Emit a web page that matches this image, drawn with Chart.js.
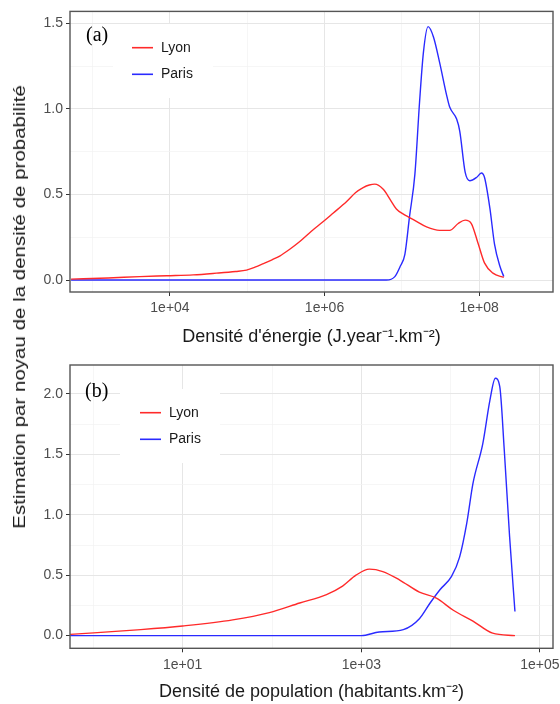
<!DOCTYPE html>
<html lang="fr">
<head>
<meta charset="utf-8">
<title>Densités</title>
<script src="https://cdn.jsdelivr.net/npm/chart.js@4.4.0/dist/chart.umd.min.js"></script>
<style>
  body { margin: 0; background: #fff; }
  #wrap { position: relative; width: 560px; height: 704px; overflow: hidden; }
  canvas { position: absolute; left: 0; }
  #chartA { top: 0; }
  #chartB { top: 352px; }
  #ytitle {
    position: absolute; left: 20px; top: 307px;
    font: 17px "Liberation Sans", Arial, sans-serif; color: #1a1a1a;
    white-space: nowrap; transform-origin: center center;
  }
</style>
</head>
<body>
<div id="wrap">
  <canvas id="chartA" width="560" height="352"></canvas>
  <canvas id="chartB" width="560" height="352"></canvas>
  <div id="ytitle">Estimation par noyau de la densité de probabilité</div>
</div>
<script>
// (a) energy density — x values are log10 of J.year-1.km-2
const lyonEnergyX = [2.72, 3.2, 3.61, 3.96, 4.3, 4.6, 4.85, 4.99, 5.1, 5.21, 5.32, 5.42, 5.55, 5.68, 5.83, 5.98, 6.11, 6.29, 6.4, 6.5, 6.58, 6.65, 6.76, 6.85, 6.93, 7.02, 7.1, 7.2, 7.32, 7.49, 7.62, 7.73, 7.82, 7.9, 7.99, 8.07, 8.18, 8.32];
const lyonEnergyY = [0.005, 0.012, 0.02, 0.025, 0.03, 0.04, 0.05, 0.058, 0.075, 0.096, 0.118, 0.14, 0.18, 0.225, 0.285, 0.34, 0.39, 0.46, 0.51, 0.54, 0.555, 0.56, 0.53, 0.47, 0.415, 0.385, 0.365, 0.34, 0.31, 0.29, 0.29, 0.33, 0.35, 0.33, 0.21, 0.10, 0.04, 0.015];
const parisEnergyX = [2.72, 6.6, 6.8, 6.91, 6.98, 7.04, 7.1, 7.17, 7.23, 7.28, 7.34, 7.41, 7.49, 7.58, 7.62, 7.71, 7.75, 7.82, 7.88, 7.97, 8.03, 8.07, 8.14, 8.2, 8.27, 8.32];
const parisEnergyY = [0, 0, 0, 0.02, 0.08, 0.15, 0.37, 0.62, 1.04, 1.33, 1.48, 1.42, 1.27, 1.08, 1.01, 0.94, 0.87, 0.63, 0.58, 0.6, 0.625, 0.6, 0.42, 0.21, 0.08, 0.02];
const energyXMajor = [4, 6, 8];
const energyXMinor = [3, 5, 7];
const energyXLabels = ['1e+04', '1e+06', '1e+08'];
const energyYMajor = [0, 0.5, 1.0, 1.5];
const energyYMinor = [0.25, 0.75, 1.25];

// (b) population density — x values are log10 of habitants.km-2
const lyonPopX = [-0.26, 0.53, 1.0, 1.56, 1.97, 2.31, 2.61, 2.79, 2.94, 3.09, 3.24, 3.43, 3.65, 3.84, 4.03, 4.25, 4.47, 4.72];
const lyonPopY = [0.01, 0.05, 0.08, 0.13, 0.19, 0.27, 0.34, 0.41, 0.5, 0.55, 0.53, 0.46, 0.36, 0.31, 0.21, 0.12, 0.02, 0.0];
const parisPopX = [-0.26, 2.085, 3.0, 3.2, 3.47, 3.65, 3.77, 3.88, 4.01, 4.1, 4.18, 4.25, 4.36, 4.44, 4.5, 4.55, 4.6, 4.66, 4.72];
const parisPopY = [0, 0, 0, 0.03, 0.05, 0.14, 0.27, 0.38, 0.49, 0.65, 0.93, 1.26, 1.59, 1.95, 2.13, 2.06, 1.54, 0.82, 0.2];
const popXMajor = [1, 3, 5];
const popXMinor = [0, 2, 4];
const popXLabels = ['1e+01', '1e+03', '1e+05'];
const popYMajor = [0, 0.5, 1.0, 1.5, 2.0];
const popYMinor = [0.25, 0.75, 1.25, 1.75];

const seriesNames = ['Lyon', 'Paris'];
const seriesColors = ['#ff2a2a', '#2a2aff'];

const FONT = '"Liberation Sans", Arial, sans-serif';

function toPoints(xs, ys) {
    return xs.map((x, i) => ({ x: x, y: ys[i] }));
}

function isIn(list, v) {
    return list.some(m => Math.abs(m - v) < 1e-6);
}

// border, inset legend and panel tag, drawn over the grid
const panelDecor = {
    id: 'panelDecor',
    afterDatasetsDraw(chart, args, opts) {
        const { ctx, chartArea: a } = chart;
        ctx.save();
        const b = opts.box;
        ctx.fillStyle = '#fff';
        ctx.fillRect(b[0], b[1], b[2], b[3]);
        chart.data.datasets.forEach((ds, i) => {
            const y = opts.legendY + i * 26.6;
            ctx.strokeStyle = ds.borderColor;
            ctx.lineWidth = 1.6;
            ctx.beginPath();
            ctx.moveTo(opts.legendX, y);
            ctx.lineTo(opts.legendX + 21, y);
            ctx.stroke();
            ctx.fillStyle = '#1a1a1a';
            ctx.font = '14px ' + FONT;
            ctx.textBaseline = 'middle';
            ctx.fillText(ds.label, opts.legendX + 29, y);
        });
        ctx.fillStyle = '#000';
        ctx.font = '20px "Liberation Serif", "Times New Roman", serif';
        ctx.textBaseline = 'middle';
        ctx.fillText(opts.tag, opts.tagX, opts.tagY);
        ctx.strokeStyle = '#555';
        ctx.lineWidth = 1.4;
        ctx.strokeRect(a.left, a.top, a.right - a.left, a.bottom - a.top);
        ctx.restore();
    }
};

function makePanel(id, p) {
    const ctx = document.getElementById(id).getContext('2d');
    const gridColor = (major) => (c) => isIn(major, c.tick.value) ? '#e6e6e6' : '#f2f2f2';
    const gridWidth = (major) => (c) => isIn(major, c.tick.value) ? 1 : 0.7;
    const tickColor = (major) => (c) => isIn(major, c.tick.value) ? '#333' : 'rgba(0,0,0,0)';
    return new Chart(ctx, {
        type: 'line',
        data: {
            datasets: seriesNames.map((name, i) => ({
                label: name,
                data: toPoints(p.xs[i], p.ys[i]),
                borderColor: seriesColors[i],
                borderWidth: 1.4,
                pointRadius: 0,
                fill: false,
                cubicInterpolationMode: 'monotone'
            }))
        },
        options: {
            responsive: false,
            animation: false,
            layout: { padding: { top: p.top, right: 7, left: 0, bottom: 0 } },
            scales: {
                x: {
                    type: 'linear',
                    min: p.xMin,
                    max: p.xMax,
                    afterBuildTicks: (s) => {
                        s.ticks = p.xMajor.concat(p.xMinor).sort((a, b) => a - b).map(v => ({ value: v }));
                    },
                    afterFit: (s) => {
                        s.height = p.xAxisH;
                        s.paddingLeft = 0;
                        s.paddingRight = 0;
                    },
                    border: { display: false },
                    grid: {
                        color: gridColor(p.xMajor),
                        lineWidth: gridWidth(p.xMajor),
                        tickColor: tickColor(p.xMajor),
                        tickLength: 4
                    },
                    ticks: {
                        autoSkip: false,
                        maxRotation: 0,
                        padding: 4,
                        color: '#4d4d4d',
                        font: { family: FONT, size: 14 },
                        callback: (v) => {
                            const k = p.xMajor.findIndex(m => Math.abs(m - v) < 1e-6);
                            return k >= 0 ? p.xLabels[k] : '';
                        }
                    },
                    title: {
                        display: true,
                        text: p.xTitle,
                        color: '#1a1a1a',
                        font: { family: FONT, size: 18 },
                        padding: { top: 0, bottom: p.titlePad }
                    }
                },
                y: {
                    type: 'linear',
                    min: p.yMin,
                    max: p.yMax,
                    afterBuildTicks: (s) => {
                        s.ticks = p.yMajor.concat(p.yMinor).sort((a, b) => a - b).map(v => ({ value: v }));
                    },
                    afterFit: (s) => { s.width = 70; },
                    border: { display: false },
                    grid: {
                        color: gridColor(p.yMajor),
                        lineWidth: gridWidth(p.yMajor),
                        tickColor: tickColor(p.yMajor),
                        tickLength: 4
                    },
                    ticks: {
                        autoSkip: false,
                        padding: 3,
                        color: '#4d4d4d',
                        font: { family: FONT, size: 14 },
                        callback: (v) => isIn(p.yMajor, v) ? v.toFixed(1) : ''
                    }
                }
            },
            plugins: {
                legend: { display: false },
                tooltip: { enabled: false },
                panelDecor: p.decor
            }
        },
        plugins: [panelDecor]
    });
}

makePanel('chartA', {
    xs: [lyonEnergyX, parisEnergyX],
    ys: [lyonEnergyY, parisEnergyY],
    xMin: 2.706, xMax: 8.957,
    yMin: -0.07, yMax: 1.569,
    xMajor: energyXMajor, xMinor: energyXMinor, xLabels: energyXLabels,
    yMajor: energyYMajor, yMinor: energyYMinor,
    xTitle: 'Densité d\'énergie (J.year⁻¹.km⁻²)',
    top: 8, xAxisH: 60, titlePad: 4,
    decor: { box: [113, 24, 100, 74], legendX: 132, legendY: 47.7, tag: '(a)', tagX: 86, tagY: 36 }
});

makePanel('chartB', {
    xs: [lyonPopX, parisPopX],
    ys: [lyonPopY, parisPopY],
    xMin: -0.262, xMax: 5.146,
    yMin: -0.105, yMax: 2.24,
    xMajor: popXMajor, xMinor: popXMinor, xLabels: popXLabels,
    yMajor: popYMajor, yMinor: popYMinor,
    xTitle: 'Densité de population (habitants.km⁻²)',
    top: 13, xAxisH: 55.7, titlePad: 1,
    decor: { box: [120, 37, 100, 74], legendX: 140, legendY: 60.7, tag: '(b)', tagX: 85, tagY: 40 }
});

// stretch the shared y title to its length in the figure
const yt = document.getElementById('ytitle');
const k = 444 / yt.offsetWidth;
yt.style.transform = 'translate(-50%, -50%) rotate(-90deg) scaleX(' + k + ')';
</script>
</body>
</html>
